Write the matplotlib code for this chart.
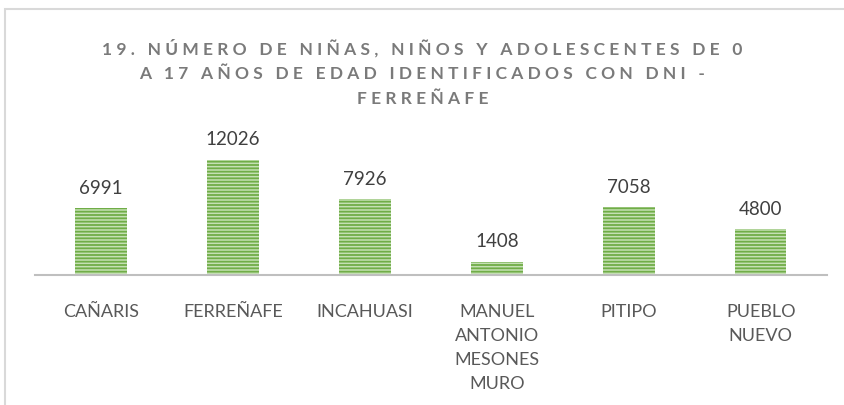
import matplotlib
matplotlib.use("Agg")
import matplotlib.pyplot as plt
from matplotlib.patches import Rectangle

# Datos: niñas, niños y adolescentes con DNI por distrito de Ferreñafe
distritos = ["CAÑARIS", "FERREÑAFE", "INCAHUASI", "MANUEL\nANTONIO\nMESONES\nMURO", "PITIPO", "PUEBLO\nNUEVO"]
valores = [6991, 12026, 7926, 1408, 7058, 4800]
titulo = "19. NÚMERO DE NIÑAS, NIÑOS Y ADOLESCENTES DE 0\nA 17 AÑOS DE EDAD IDENTIFICADOS CON DNI -\nFERREÑAFE"

plt.rcParams['font.family'] = ['Lato', 'DejaVu Sans']
plt.rcParams['hatch.linewidth'] = 1.3


def espaciar(texto: str) -> str:
    """separa las letras para imitar el espaciado del título"""
    lineas = []
    for linea in texto.split("\n"):
        palabras = [" ".join(p) for p in linea.split(" ")]
        lineas.append("   ".join(palabras))
    return "\n".join(lineas)


fig = plt.figure(figsize=(8.45, 4.06), dpi=100)
ax = fig.add_axes([0.0414, 0.3202, 0.937, 0.3298])

# borde del área del gráfico
fig.patches.append(Rectangle((5 / 845, -0.1), 1.2, 1 - 10 / 406 + 0.1, transform=fig.transFigure,
                             fill=False, edgecolor="#D9D9D9", linewidth=1.5))

x = range(len(distritos))
barras = ax.bar(x, valores, width=0.39, color="#C5E0B4", edgecolor="#70AD47",
                linewidth=0, hatch="-----")

for xi, v in zip(x, valores):
    ax.annotate(str(v), (xi, v), xytext=(0, 9), textcoords="offset points",
                ha="center", va="bottom", fontsize=13.5, color="#404040")

ax.set_xlim(-0.5, len(distritos) - 0.5)
ax.set_ylim(0, 14000)
ax.set_xticks(list(x))
ax.set_xticklabels(distritos, fontsize=13, color="#595959", linespacing=1.62)
ax.tick_params(axis="x", length=0, pad=20)
ax.set_yticks([])
for lado in ["top", "right", "left"]:
    ax.spines[lado].set_visible(False)
ax.spines["bottom"].set_color("#BFBFBF")
ax.spines["bottom"].set_linewidth(1.5)

fig.text(0.5, 1 - 73 / 406, espaciar(titulo), ha="center", va="center", fontsize=12.5,
         fontweight="bold", color="#7A7A7A", linespacing=1.7)

fig.savefig("out.png", dpi=100)
